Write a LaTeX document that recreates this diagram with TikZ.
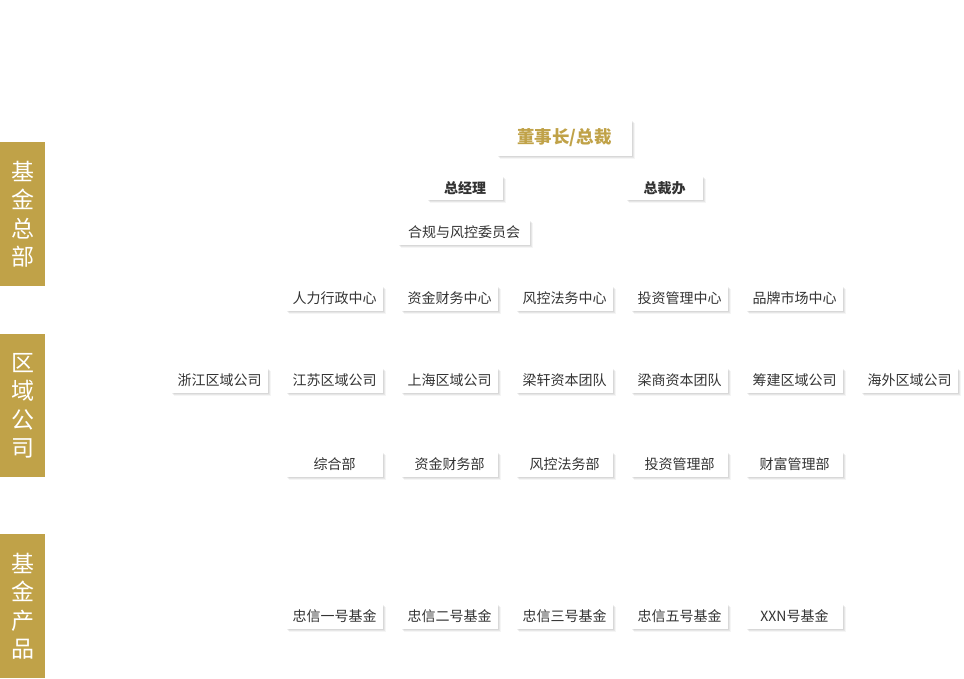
\documentclass[tikz,border=0pt]{standalone}
\usepackage{fontspec}
\setmainfont{Noto Sans CJK SC}
\usetikzlibrary{shadows}
\definecolor{gold}{RGB}{192,162,72}
\definecolor{ink}{RGB}{51,51,51}

\begin{document}
\begin{tikzpicture}[x=1pt,y=-1pt,
    card/.style={fill=white,inner sep=0pt,minimum width=97pt,minimum height=25pt,text=ink,
        font=\fontsize{14}{16}\selectfont,
        drop shadow={shadow xshift=3pt,shadow yshift=-3pt,fill=black,opacity=.04},
        drop shadow={shadow xshift=2pt,shadow yshift=-2pt,fill=black,opacity=.06},
        drop shadow={shadow xshift=1pt,shadow yshift=-1pt,fill=black,opacity=.06}},
    tab/.style={fill=gold,text=white,inner sep=0pt,minimum width=45pt,minimum height=144pt,
        anchor=north west,align=center,font=\fontsize{23}{28.5}\selectfont}]
    \useasboundingbox[fill=white](0,0) rectangle (964,678);
    \node[tab] (hq) at (0,142) {基\\金\\总\\部};
    \node[tab,minimum height=143pt] (area) at (0,334) {区\\域\\公\\司};
    \node[tab] (prod) at (0,534) {基\\金\\产\\品};
    \node[card,minimum width=135pt,minimum height=36pt,text=gold,font=\fontsize{17.5}{20}\selectfont\bfseries] (chair) at (564.5,138) {董事长/总裁};
    \node[card,minimum width=76pt,minimum height=24pt,font=\fontsize{14}{16}\selectfont\bfseries] (gm) at (465,188) {总经理};
    \node[card,minimum width=77pt,minimum height=24pt,font=\fontsize{14}{16}\selectfont\bfseries] (office) at (664.5,188) {总裁办};
    \node[card,minimum width=132pt] (risk) at (464,232.5) {合规与风控委员会};
    \foreach \name [count=\i] in {人力行政中心,资金财务中心,风控法务中心,投资管理中心,品牌市场中心}
        \node[card] (center\i) at ({334.5+115*(\i-1)},298) {\name};
    \foreach \name [count=\i] in {浙江区域公司,江苏区域公司,上海区域公司,梁轩资本团队,梁商资本团队,筹建区域公司,海外区域公司}
        \node[card] (branch\i) at ({219.5+115*(\i-1)},380.5) {\name};
    \foreach \name [count=\i] in {综合部,资金财务部,风控法务部,投资管理部,财富管理部}
        \node[card] (dept\i) at ({334.5+115*(\i-1)},464) {\name};
    \foreach \name [count=\i] in {忠信一号基金,忠信二号基金,忠信三号基金,忠信五号基金,XXN号基金}
        \node[card] (fund\i) at ({334.5+115*(\i-1)},616) {\name};
\end{tikzpicture}
\end{document}
